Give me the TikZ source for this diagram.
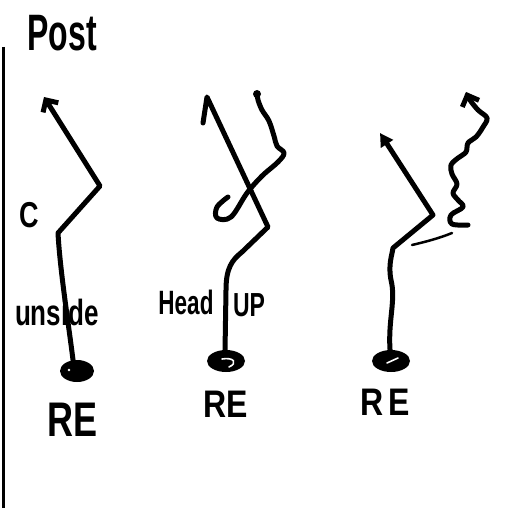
\documentclass[tikz,border=0pt]{standalone}
\usepackage{fontspec}
\setmainfont{Liberation Sans}
\usetikzlibrary{arrows.meta,shapes.geometric}
\begin{document}
\begin{tikzpicture}[x=1pt,y=-1pt,
  route/.style={line width=5pt, line cap=round, line join=round},
  thinmark/.style={line width=2.5pt, line cap=round},
  ink/.style={text=black, inner sep=0pt},
  spot/.style={ellipse, fill=black, inner sep=0pt, minimum height=22pt},
  shine/.style={white, line width=1.6pt, line cap=round},
  openhead/.style={-{Straight Barb[length=9pt,width=18pt]}},
  solidhead/.style={-{Triangle[length=13pt,width=14pt]}}]
\useasboundingbox (0,0) rectangle (506,508);

% sideline
\coordinate (railtop) at (3,47);
\coordinate (railbot) at (3,508);
\draw[line width=3pt] (railtop) -- (railbot);

% title
\node[ink, font=\bfseries\fontsize{32}{32}\selectfont] (post) at (62,33) {\scalebox{1}[1.6]{Post}};

% ---------- play 1: inside technique ----------
\node[spot, minimum width=34pt] (d1) at (77,371) {};
\fill[white] (69,370) circle (1.3);
\node[ink, font=\bfseries\fontsize{36}{36}\selectfont] (re1) at (73,420) {\scalebox{1}[1.35]{RE}};
\node[ink, font=\bfseries\fontsize{26}{26}\selectfont] (lab1) at (57,312) {\scalebox{1}[1.4]{unside}};
\node[ink, font=\bfseries\fontsize{30}{30}\selectfont] (c1) at (29,215) {\scalebox{0.9}[1.2]{C}};
\coordinate (k1) at (58,233);
\coordinate (j1) at (100,186);
\coordinate (t1) at (44,97);
\draw[route, openhead] (d1.110) .. controls (68,320) and (60,270) .. (k1) -- (j1) -- (t1);

% ---------- play 2: head up ----------
\node[spot, minimum width=38pt] (d2) at (226,361) {};
\draw[shine] (222,359) .. controls (234,357) and (238,363) .. (229,367);
\node[ink, font=\bfseries\fontsize{32}{32}\selectfont] (re2) at (226,404) {\scalebox{1}[1.2]{RE}};
\node[ink, font=\bfseries\fontsize{22.5}{22.5}\selectfont] (lab2a) at (186,302) {\scalebox{1}[1.5]{Head}};
\node[ink, font=\bfseries\fontsize{23}{23}\selectfont] (lab2b) at (249,305) {\scalebox{1}[1.45]{UP}};
\coordinate (k2) at (268,227);
\coordinate (t2) at (207,97);
\coordinate (h2) at (203,123);
\draw[route] (d2.95) -- (226,290) .. controls (226,268) and (232,260) .. (242,252) -- (k2) -- (t2) -- (h2);
% center's path, hooked at the bottom
\draw[route] plot[smooth, tension=0.6] coordinates {(228,197) (217,207) (217,218) (231,217) (247,193) (262,176) (278,162) (284,153) (277,146) (274,136) (269,121) (262,110) (258,100) (257,94)};
\fill (257,94) circle (4);

% ---------- play 3 ----------
\node[spot, minimum width=38pt] (d3) at (391,361) {};
\draw[shine] (387,363) -- (398,358);
\node[ink, font=\bfseries\fontsize{32}{32}\selectfont] (re3) at (385,402) {\scalebox{1}[1.2]{R\,E}};
\coordinate (k3) at (433,215);
\coordinate (t3) at (380,133);
\draw[route, solidhead] (d3.95) .. controls (388,320) and (396,300) .. (391,280) .. controls (388,265) and (392,255) .. (393,248) -- (k3) -- (t3);
\coordinate (m1) at (412,245);
\coordinate (m2) at (452,233);
\draw[thinmark] (m1) .. controls (425,242) and (440,238) .. (m2);
\draw[route, openhead] plot[smooth, tension=0.6] coordinates {(468,225) (452,224) (451,215) (463,207) (458,200) (453,193) (457,184) (452,174) (451,165) (458,158) (466,152) (468,143) (476,137) (483,127) (487,118) (478,110) (470,100) (466,92)};
\end{tikzpicture}
\end{document}
